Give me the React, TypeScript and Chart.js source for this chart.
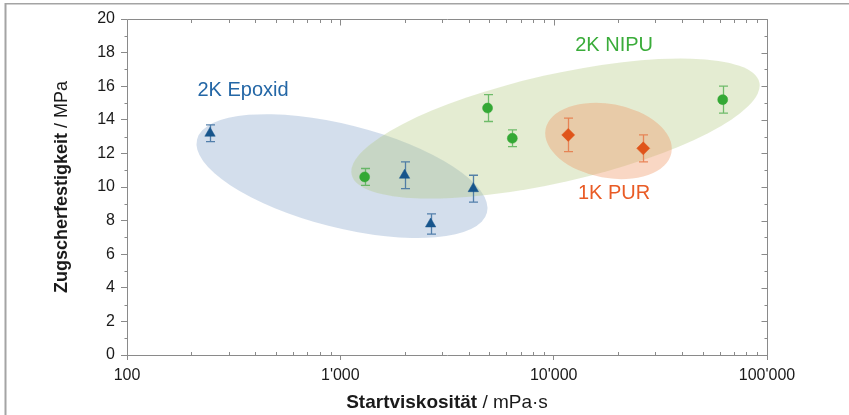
import { useEffect, useRef } from "react";
import { Chart, registerables } from "chart.js";

Chart.register(...registerables);

// ---- Data ----
const EPOXID_X = [245, 2000, 2650, 4200];
const EPOXID_Y = [13.2, 10.7, 7.8, 9.9];
const EPOXID_ERR = [0.5, 0.8, 0.6, 0.8];

const NIPU_X = [1300, 4900, 6400, 62000];
const NIPU_Y = [10.6, 14.7, 12.9, 15.2];
const NIPU_ERR = [0.5, 0.8, 0.5, 0.8];

const PUR_X = [11700, 26300];
const PUR_Y = [13.1, 12.3];
const PUR_ERR = [1.0, 0.8];

const X_TICKS = [100, 1000, 10000, 100000];
const X_TICK_LABELS = ["100", "1'000", "10'000", "100'000"];
const Y_MIN = 0;
const Y_MAX = 20;
const Y_STEP = 2;

const X_TITLE_BOLD = "Startviskosität";
const X_TITLE_REST = " / mPa·s";
const Y_TITLE_BOLD = "Zugscherfestigkeit";
const Y_TITLE_REST = " / MPa";

const GROUP_NAMES = ["2K Epoxid", "2K NIPU", "1K PUR"];
// label anchors in data coordinates
const LABEL_X = [350, 19200, 19200];
const LABEL_Y = [15.75, 18.45, 9.62];

// ellipse centres in data coordinates
const ELLIPSE_X = [1018, 10200, 18070];
const ELLIPSE_Y = [10.65, 13.48, 12.74];

// ---- Styles ----
const FONT = '"Liberation Sans", Arial, Helvetica, sans-serif';
const COLORS = ["#17558c", "#34a835", "#e0541a"];
const ERR_COLORS = ["rgba(60,110,160,0.85)", "rgba(80,175,80,0.8)", "rgba(230,120,70,0.85)"];
const LABEL_COLORS = ["#2467a6", "#3aac3a", "#e95b25"];
const ELLIPSE_FILL = [
  "rgba(129,161,201,0.35)",
  "rgba(181,201,129,0.36)",
  "rgba(238,150,100,0.38)",
];
const ELLIPSE_RX = [149.5, 209, 64];
const ELLIPSE_RY = [51.5, 54, 37];
const ELLIPSE_ROT = [14.2, -12.75, 10.5];
const AXIS_COLOR = "#8a8a8a";

const seriesX = [EPOXID_X, NIPU_X, PUR_X];
const seriesY = [EPOXID_Y, NIPU_Y, PUR_Y];
const seriesErr = [EPOXID_ERR, NIPU_ERR, PUR_ERR];

const decorPlugin = {
  id: "decor",
  beforeDatasetsDraw(chart: any) {
    const ctx = chart.ctx as CanvasRenderingContext2D;
    const xs = chart.scales.x;
    const ys = chart.scales.y;
    const area = chart.chartArea;
    ctx.save();
    ctx.beginPath();
    ctx.rect(area.left, area.top, area.right - area.left, area.bottom - area.top);
    ctx.clip();
    // ellipses
    for (let i = 0; i < ELLIPSE_X.length; i++) {
      const cx = xs.getPixelForValue(ELLIPSE_X[i]);
      const cy = ys.getPixelForValue(ELLIPSE_Y[i]);
      ctx.save();
      ctx.translate(cx, cy);
      ctx.rotate((ELLIPSE_ROT[i] * Math.PI) / 180);
      ctx.beginPath();
      ctx.ellipse(0, 0, ELLIPSE_RX[i], ELLIPSE_RY[i], 0, 0, Math.PI * 2);
      ctx.fillStyle = ELLIPSE_FILL[i];
      ctx.fill();
      ctx.restore();
    }
    ctx.restore();

    // error bars
    ctx.save();
    ctx.lineWidth = 1.3;
    for (let s = 0; s < seriesX.length; s++) {
      ctx.strokeStyle = ERR_COLORS[s];
      for (let i = 0; i < seriesX[s].length; i++) {
        const px = Math.round(xs.getPixelForValue(seriesX[s][i])) + 0.5;
        const y1 = ys.getPixelForValue(seriesY[s][i] + seriesErr[s][i]);
        const y2 = ys.getPixelForValue(seriesY[s][i] - seriesErr[s][i]);
        ctx.beginPath();
        ctx.moveTo(px, y1);
        ctx.lineTo(px, y2);
        ctx.moveTo(px - 4.5, y1);
        ctx.lineTo(px + 4.5, y1);
        ctx.moveTo(px - 4.5, y2);
        ctx.lineTo(px + 4.5, y2);
        ctx.stroke();
      }
    }
    ctx.restore();
  },
  afterDraw(chart: any) {
    const ctx = chart.ctx as CanvasRenderingContext2D;
    const xs = chart.scales.x;
    const ys = chart.scales.y;
    const { left, right, top, bottom } = chart.chartArea;
    ctx.save();

    // outer frame
    ctx.fillStyle = "#a4a4a4";
    ctx.fillRect(5, 3, chart.width - 5, 1.5);
    ctx.fillRect(4.5, 3, 2, chart.height - 3);

    // axis box
    ctx.strokeStyle = AXIS_COLOR;
    ctx.lineWidth = 1;
    const L = Math.round(left) + 0.5;
    const R = Math.round(right) + 0.5;
    const T = Math.round(top) + 0.5;
    const B = Math.round(bottom) + 0.5;
    ctx.beginPath();
    ctx.rect(L, T, R - L, B - T);
    ctx.stroke();

    ctx.beginPath();
    // y minor ticks (left outward) and right-side inward ticks
    for (let v = Y_MIN; v <= Y_MAX; v += 1) {
      const py = Math.round(ys.getPixelForValue(v)) + 0.5;
      const major = v % Y_STEP === 0;
      if (!major) {
        ctx.moveTo(L, py);
        ctx.lineTo(L - 3, py);
      }
      ctx.moveTo(R, py);
      ctx.lineTo(R - (major ? 6 : 3), py);
    }
    // x log ticks
    for (let d = 0; d < X_TICKS.length; d++) {
      const base = X_TICKS[d];
      const pxMaj = Math.round(xs.getPixelForValue(base)) + 0.5;
      ctx.moveTo(pxMaj, T);
      ctx.lineTo(pxMaj, T + 6);
      if (d === X_TICKS.length - 1) break;
      for (let m = 2; m <= 9; m++) {
        const px = Math.round(xs.getPixelForValue(base * m)) + 0.5;
        ctx.moveTo(px, T);
        ctx.lineTo(px, T + 3.5);
        ctx.moveTo(px, B);
        ctx.lineTo(px, B - 3.5);
      }
    }
    ctx.stroke();

    // axis titles
    ctx.fillStyle = "#1a1a1a";
    ctx.textBaseline = "middle";
    const xBoldFont = `bold 19px ${FONT}`;
    const xRegFont = `19px ${FONT}`;
    ctx.font = xBoldFont;
    const xb = ctx.measureText(X_TITLE_BOLD).width;
    ctx.font = xRegFont;
    const xr = ctx.measureText(X_TITLE_REST).width;
    const xc = (left + right) / 2;
    const sx = xc - (xb + xr) / 2;
    ctx.textAlign = "left";
    ctx.font = xBoldFont;
    ctx.fillText(X_TITLE_BOLD, sx, 403);
    ctx.font = xRegFont;
    ctx.fillText(X_TITLE_REST, sx + xb, 403);

    const boldFont = `bold 18px ${FONT}`;
    const regFont = `18px ${FONT}`;
    ctx.font = boldFont;
    const yb = ctx.measureText(Y_TITLE_BOLD).width;
    ctx.font = regFont;
    const yr = ctx.measureText(Y_TITLE_REST).width;
    ctx.save();
    ctx.translate(62, (top + bottom) / 2);
    ctx.rotate(-Math.PI / 2);
    const sy = -(yb + yr) / 2;
    ctx.font = boldFont;
    ctx.fillText(Y_TITLE_BOLD, sy, 0);
    ctx.font = regFont;
    ctx.fillText(Y_TITLE_REST, sy + yb, 0);
    ctx.restore();

    // group labels
    ctx.textAlign = "center";
    ctx.font = `20px ${FONT}`;
    for (let i = 0; i < GROUP_NAMES.length; i++) {
      ctx.fillStyle = LABEL_COLORS[i];
      ctx.fillText(
        GROUP_NAMES[i],
        xs.getPixelForValue(LABEL_X[i]),
        ys.getPixelForValue(LABEL_Y[i])
      );
    }
    ctx.restore();
  },
};

export default function App() {
  const ref = useRef<HTMLCanvasElement | null>(null);
  useEffect(() => {
    document.body.style.margin = "0";
    const canvas = ref.current;
    if (!canvas) return;
    const styles = ["triangle", "circle", "rectRot"];
    const radii = [6, 5, 6.5];
    const chart = new Chart(canvas, {
      type: "scatter",
      data: {
        datasets: seriesX.map((xsArr, s) => ({
          label: GROUP_NAMES[s],
          data: xsArr.map((x, i) => ({ x, y: seriesY[s][i] })),
          pointStyle: styles[s] as any,
          pointRadius: radii[s],
          pointBackgroundColor: COLORS[s],
          pointBorderColor: COLORS[s],
          pointBorderWidth: 0.5,
          showLine: false,
        })),
      },
      options: {
        responsive: false,
        animation: false,
        events: [],
        layout: { padding: { top: 19, right: 82, left: 0, bottom: 0 } },
        plugins: {
          legend: { display: false },
          tooltip: { enabled: false },
        },
        scales: {
          x: {
            type: "logarithmic",
            min: 100,
            max: 100000,
            afterBuildTicks: (s: any) => {
              s.ticks = X_TICKS.map((v) => ({ value: v, major: true }));
            },
            afterFit: (s: any) => {
              s.height = 60;
            },
            ticks: {
              autoSkip: false,
              maxRotation: 0,
              padding: 6,
              color: "#1a1a1a",
              font: { family: FONT, size: 16 },
              callback: (_v: any, i: number) => X_TICK_LABELS[i],
            },
            grid: {
              drawOnChartArea: false,
              drawTicks: true,
              tickLength: 5,
              color: AXIS_COLOR,
            },
            border: { display: false },
          },
          y: {
            min: Y_MIN,
            max: Y_MAX,
            afterFit: (s: any) => {
              s.width = 127;
            },
            ticks: {
              stepSize: Y_STEP,
              padding: 6,
              color: "#1a1a1a",
              font: { family: FONT, size: 16 },
            },
            grid: {
              drawOnChartArea: false,
              drawTicks: true,
              tickLength: 6,
              color: AXIS_COLOR,
            },
            border: { display: false },
          },
        },
      },
      plugins: [decorPlugin],
    });
    return () => chart.destroy();
  }, []);
  return <canvas ref={ref} width={849} height={415} style={{ display: "block" }} />;
}
